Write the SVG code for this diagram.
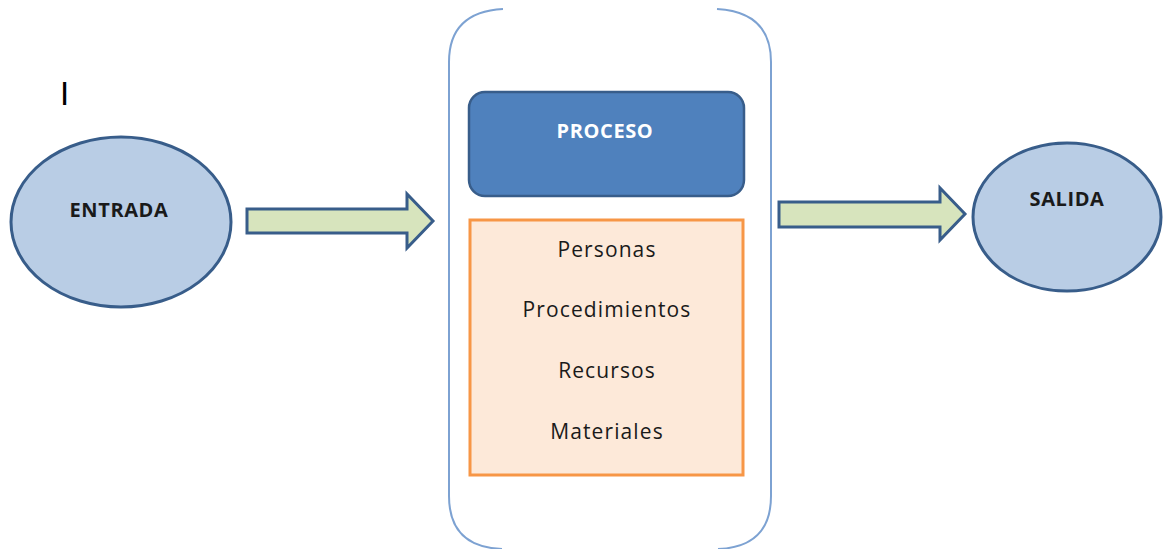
<svg xmlns="http://www.w3.org/2000/svg" width="1163" height="549" viewBox="0 0 1163 549">
<style>
.ell{fill:#b9cde5;stroke:#385d8a;stroke-width:3}
.arr{fill:#d7e4bd;stroke:#385d8a;stroke-width:3;stroke-linejoin:miter}
.lbl{font-family:"Open Sans","Liberation Sans",sans-serif;font-weight:bold;font-size:20px;letter-spacing:0.6px;text-anchor:middle;fill:#1a1a1a}
.item{font-family:"Open Sans","Liberation Sans",sans-serif;font-size:21px;letter-spacing:1.1px;text-anchor:middle;fill:#1a1a1a}
</style>
<rect width="1163" height="549" fill="#ffffff"/>
<text x="60" y="105" font-family="Liberation Sans, sans-serif" font-size="33" fill="#000">I</text>
<g id="container">
<path d="M503 9 Q449 12 449 62 L449 496 Q449 547 502 549 M717 9 Q771 12 771 62 L771 496 Q771 547 718 549" fill="none" stroke="#7da2d2" stroke-width="2"/>
</g>
<g id="entrada">
<ellipse class="ell" cx="121" cy="222" rx="110" ry="85"/>
<text class="lbl" x="119" y="217">ENTRADA</text>
</g>
<g id="proceso">
<rect x="469" y="92" width="275" height="104" rx="16" fill="#4f81bd" stroke="#385d8a" stroke-width="2.5"/>
<text class="lbl" x="605" y="138" style="fill:#ffffff">PROCESO</text>
</g>
<g id="recursos">
<rect x="470" y="220" width="273" height="255" fill="#fde9d9" stroke="#f79646" stroke-width="3"/>
<text class="item" x="607" y="257">Personas</text>
<text class="item" x="607" y="317">Procedimientos</text>
<text class="item" x="607" y="378">Recursos</text>
<text class="item" x="607" y="439">Materiales</text>
</g>
<g id="salida">
<ellipse class="ell" cx="1067" cy="217" rx="94" ry="74"/>
<text class="lbl" x="1067" y="206">SALIDA</text>
</g>
<g id="connectors">
<path class="arr" d="M247 209 L407 209 L407 194 L433 221 L407 248 L407 233 L247 233 Z"/>
<path class="arr" d="M779 202 L940 202 L940 188 L965 214 L940 240 L940 227 L779 227 Z"/>
</g>
</svg>
